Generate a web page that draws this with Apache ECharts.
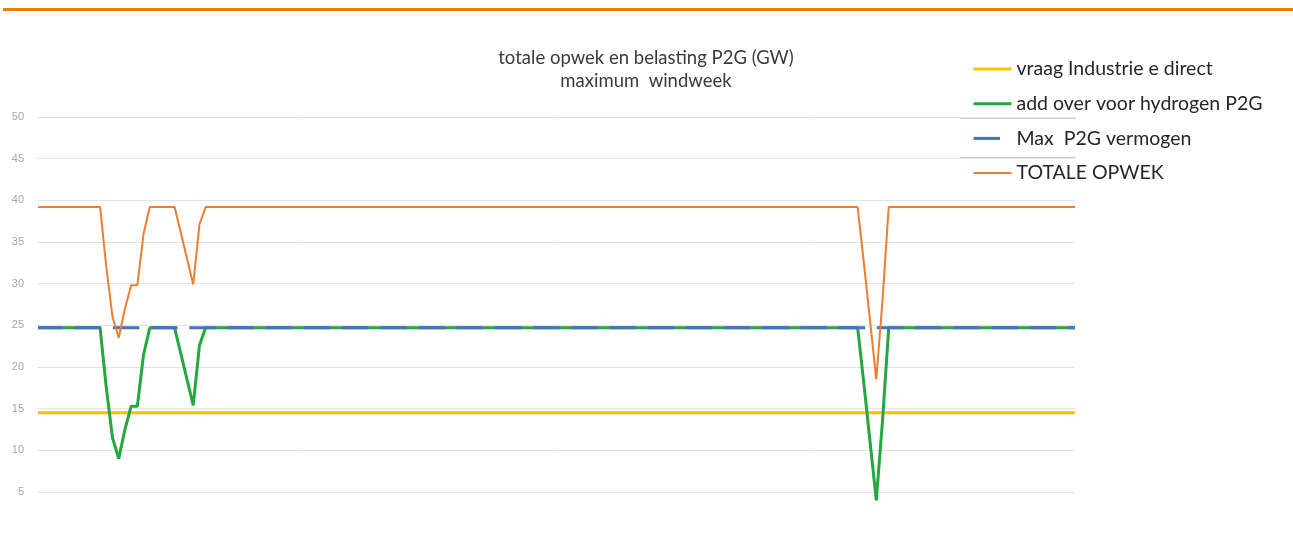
<!DOCTYPE html>
<html>
<head>
<meta charset="utf-8">
<script src="https://cdn.jsdelivr.net/npm/echarts@6/dist/echarts.min.js"></script>
<style>
  html, body { margin: 0; padding: 0; background: #fff; }
  #chart { width: 1293px; height: 549px; }
</style>
</head>
<body>
<div id="chart"></div>
<script>
// hours of the week (category axis, labels hidden)
const hours = [
  1,2,3,4,5,6,7,8,9,10,11,12,13,14,15,16,17,18,19,20,21,22,23,24,
  25,26,27,28,29,30,31,32,33,34,35,36,37,38,39,40,41,42,43,44,45,46,47,48,
  49,50,51,52,53,54,55,56,57,58,59,60,61,62,63,64,65,66,67,68,69,70,71,72,
  73,74,75,76,77,78,79,80,81,82,83,84,85,86,87,88,89,90,91,92,93,94,95,96,
  97,98,99,100,101,102,103,104,105,106,107,108,109,110,111,112,113,114,115,116,117,118,119,120,
  121,122,123,124,125,126,127,128,129,130,131,132,133,134,135,136,137,138,139,140,141,142,143,144,
  145,146,147,148,149,150,151,152,153,154,155,156,157,158,159,160,161,162,163,164,165,166,167,168
];

const yTicks = [5, 10, 15, 20, 25, 30, 35, 40, 45, 50];

const seriesNames = [
  'vraag Industrie e direct',
  'add over voor hydrogen P2G',
  'Max  P2G vermogen',
  'TOTALE OPWEK'
];

const vraagIndustrie = [
  14.5,14.5,14.5,14.5,14.5,14.5,14.5,14.5,14.5,14.5,14.5,14.5,14.5,14.5,14.5,14.5,14.5,14.5,14.5,14.5,14.5,14.5,14.5,14.5,
  14.5,14.5,14.5,14.5,14.5,14.5,14.5,14.5,14.5,14.5,14.5,14.5,14.5,14.5,14.5,14.5,14.5,14.5,14.5,14.5,14.5,14.5,14.5,14.5,
  14.5,14.5,14.5,14.5,14.5,14.5,14.5,14.5,14.5,14.5,14.5,14.5,14.5,14.5,14.5,14.5,14.5,14.5,14.5,14.5,14.5,14.5,14.5,14.5,
  14.5,14.5,14.5,14.5,14.5,14.5,14.5,14.5,14.5,14.5,14.5,14.5,14.5,14.5,14.5,14.5,14.5,14.5,14.5,14.5,14.5,14.5,14.5,14.5,
  14.5,14.5,14.5,14.5,14.5,14.5,14.5,14.5,14.5,14.5,14.5,14.5,14.5,14.5,14.5,14.5,14.5,14.5,14.5,14.5,14.5,14.5,14.5,14.5,
  14.5,14.5,14.5,14.5,14.5,14.5,14.5,14.5,14.5,14.5,14.5,14.5,14.5,14.5,14.5,14.5,14.5,14.5,14.5,14.5,14.5,14.5,14.5,14.5,
  14.5,14.5,14.5,14.5,14.5,14.5,14.5,14.5,14.5,14.5,14.5,14.5,14.5,14.5,14.5,14.5,14.5,14.5,14.5,14.5,14.5,14.5,14.5,14.5
];

const addOverHydrogen = [
  24.7,24.7,24.7,24.7,24.7,24.7,24.7,24.7,24.7,24.7,24.7,17.5,11.5,9,12.5,15.3,15.3,21.5,24.7,24.7,24.7,24.7,24.7,21.6,
  18.5,15.4,22.6,24.7,24.7,24.7,24.7,24.7,24.7,24.7,24.7,24.7,24.7,24.7,24.7,24.7,24.7,24.7,24.7,24.7,24.7,24.7,24.7,24.7,
  24.7,24.7,24.7,24.7,24.7,24.7,24.7,24.7,24.7,24.7,24.7,24.7,24.7,24.7,24.7,24.7,24.7,24.7,24.7,24.7,24.7,24.7,24.7,24.7,
  24.7,24.7,24.7,24.7,24.7,24.7,24.7,24.7,24.7,24.7,24.7,24.7,24.7,24.7,24.7,24.7,24.7,24.7,24.7,24.7,24.7,24.7,24.7,24.7,
  24.7,24.7,24.7,24.7,24.7,24.7,24.7,24.7,24.7,24.7,24.7,24.7,24.7,24.7,24.7,24.7,24.7,24.7,24.7,24.7,24.7,24.7,24.7,24.7,
  24.7,24.7,24.7,24.7,24.7,24.7,24.7,24.7,24.7,24.7,24.7,24.7,24.7,18,11,4,13.5,24.7,24.7,24.7,24.7,24.7,24.7,24.7,
  24.7,24.7,24.7,24.7,24.7,24.7,24.7,24.7,24.7,24.7,24.7,24.7,24.7,24.7,24.7,24.7,24.7,24.7,24.7,24.7,24.7,24.7,24.7,24.7
];

const maxP2G = [
  24.7,24.7,24.7,24.7,24.7,24.7,24.7,24.7,24.7,24.7,24.7,24.7,24.7,24.7,24.7,24.7,24.7,24.7,24.7,24.7,24.7,24.7,24.7,24.7,
  24.7,24.7,24.7,24.7,24.7,24.7,24.7,24.7,24.7,24.7,24.7,24.7,24.7,24.7,24.7,24.7,24.7,24.7,24.7,24.7,24.7,24.7,24.7,24.7,
  24.7,24.7,24.7,24.7,24.7,24.7,24.7,24.7,24.7,24.7,24.7,24.7,24.7,24.7,24.7,24.7,24.7,24.7,24.7,24.7,24.7,24.7,24.7,24.7,
  24.7,24.7,24.7,24.7,24.7,24.7,24.7,24.7,24.7,24.7,24.7,24.7,24.7,24.7,24.7,24.7,24.7,24.7,24.7,24.7,24.7,24.7,24.7,24.7,
  24.7,24.7,24.7,24.7,24.7,24.7,24.7,24.7,24.7,24.7,24.7,24.7,24.7,24.7,24.7,24.7,24.7,24.7,24.7,24.7,24.7,24.7,24.7,24.7,
  24.7,24.7,24.7,24.7,24.7,24.7,24.7,24.7,24.7,24.7,24.7,24.7,24.7,24.7,24.7,24.7,24.7,24.7,24.7,24.7,24.7,24.7,24.7,24.7,
  24.7,24.7,24.7,24.7,24.7,24.7,24.7,24.7,24.7,24.7,24.7,24.7,24.7,24.7,24.7,24.7,24.7,24.7,24.7,24.7,24.7,24.7,24.7,24.7
];

const totaleOpwek = [
  39.2,39.2,39.2,39.2,39.2,39.2,39.2,39.2,39.2,39.2,39.2,32,26,23.5,27,29.8,29.8,36,39.2,39.2,39.2,39.2,39.2,36.1,
  33,29.9,37.1,39.2,39.2,39.2,39.2,39.2,39.2,39.2,39.2,39.2,39.2,39.2,39.2,39.2,39.2,39.2,39.2,39.2,39.2,39.2,39.2,39.2,
  39.2,39.2,39.2,39.2,39.2,39.2,39.2,39.2,39.2,39.2,39.2,39.2,39.2,39.2,39.2,39.2,39.2,39.2,39.2,39.2,39.2,39.2,39.2,39.2,
  39.2,39.2,39.2,39.2,39.2,39.2,39.2,39.2,39.2,39.2,39.2,39.2,39.2,39.2,39.2,39.2,39.2,39.2,39.2,39.2,39.2,39.2,39.2,39.2,
  39.2,39.2,39.2,39.2,39.2,39.2,39.2,39.2,39.2,39.2,39.2,39.2,39.2,39.2,39.2,39.2,39.2,39.2,39.2,39.2,39.2,39.2,39.2,39.2,
  39.2,39.2,39.2,39.2,39.2,39.2,39.2,39.2,39.2,39.2,39.2,39.2,39.2,32.5,25.5,18.5,28,39.2,39.2,39.2,39.2,39.2,39.2,39.2,
  39.2,39.2,39.2,39.2,39.2,39.2,39.2,39.2,39.2,39.2,39.2,39.2,39.2,39.2,39.2,39.2,39.2,39.2,39.2,39.2,39.2,39.2,39.2,39.2
];

const chart = echarts.init(document.getElementById('chart'), null, { renderer: 'canvas' });

const option = {
  backgroundColor: '#ffffff',
  animation: false,
  title: {
    text: 'totale opwek en belasting P2G (GW)\nmaximum  windweek',
    left: 641,
    top: 42,
    textAlign: 'center',
    textStyle: {
      fontFamily: 'Lato, "Liberation Sans", sans-serif',
      fontSize: 18.5,
      fontWeight: 'normal',
      color: '#3a3a3a',
      lineHeight: 23
    }
  },
  legend: {
    orient: 'vertical',
    left: 967,
    top: 54,
    itemWidth: 38,
    itemHeight: 20,
    itemGap: 14.7,
    itemStyle: { opacity: 0 },
    data: [
      { name: seriesNames[0], lineStyle: { width: 3 } },
      { name: seriesNames[1], lineStyle: { width: 3 } },
      { name: seriesNames[2], lineStyle: { width: 3, dashOffset: 0 } },
      { name: seriesNames[3], lineStyle: { width: 2 } }
    ],
    textStyle: {
      fontFamily: 'Lato, "Liberation Sans", sans-serif',
      fontSize: 19.5,
      color: '#262626',
      lineHeight: 20
    }
  },
  graphic: [
    { type: 'rect', shape: { x: 3, y: 8, width: 1290, height: 3 }, style: { fill: '#ED7D00' } },
    { type: 'line', shape: { x1: 960, y1: 118.5, x2: 1076, y2: 118.5 }, style: { stroke: '#d0d0d0', lineWidth: 1 } },
    { type: 'line', shape: { x1: 960, y1: 157.5, x2: 1076, y2: 157.5 }, style: { stroke: '#d0d0d0', lineWidth: 1 } }
  ],
  grid: {
    left: 38,
    right: 218,
    top: 117,
    bottom: 57,
    containLabel: false
  },
  xAxis: {
    type: 'category',
    data: hours,
    boundaryGap: false,
    axisLine: { show: false },
    axisTick: { show: false },
    axisLabel: { show: false },
    splitLine: { show: false }
  },
  yAxis: {
    type: 'value',
    min: yTicks[0],
    max: yTicks[yTicks.length - 1],
    interval: 5,
    axisLine: { show: false },
    axisTick: { show: false },
    axisLabel: {
      margin: 14,
      color: '#a6a6a6',
      fontSize: 11,
      fontFamily: '"Liberation Sans", sans-serif'
    },
    splitLine: { lineStyle: { color: '#e3e3e3', width: 1 } }
  },
  series: [
    {
      name: seriesNames[0],
      type: 'line',
      data: vraagIndustrie,
      symbol: 'none',
      clip: false,
      color: '#FFC000',
      lineStyle: { width: 3, color: '#FFC000' },
      z: 2
    },
    {
      name: seriesNames[1],
      type: 'line',
      data: addOverHydrogen,
      symbol: 'none',
      clip: false,
      color: '#22A83C',
      lineStyle: { width: 3, color: '#22A83C' },
      z: 3
    },
    {
      name: seriesNames[2],
      type: 'line',
      data: maxP2G,
      symbol: 'none',
      clip: false,
      color: '#4472C4',
      lineStyle: { width: 3, color: '#4472C4', type: [26.5, 11.7], dashOffset: 1.5 },
      z: 4
    },
    {
      name: seriesNames[3],
      type: 'line',
      data: totaleOpwek,
      symbol: 'none',
      clip: false,
      color: '#ED7D31',
      lineStyle: { width: 2, color: '#ED7D31' },
      z: 5
    }
  ]
};

chart.setOption(option);
</script>
</body>
</html>
